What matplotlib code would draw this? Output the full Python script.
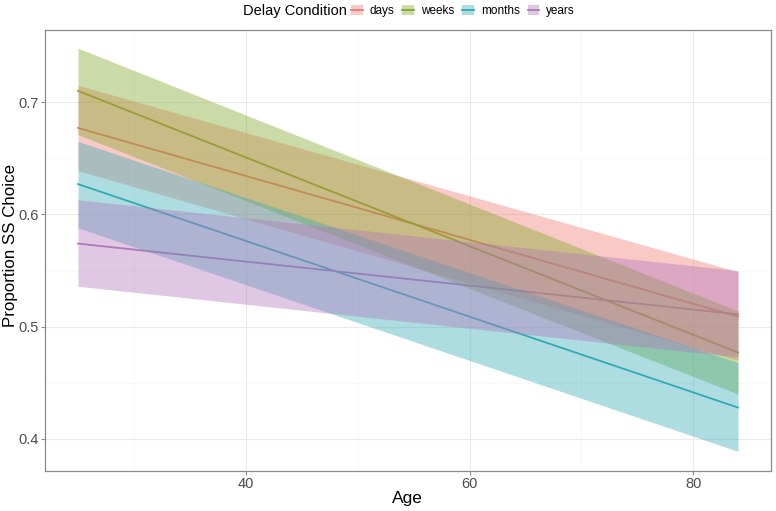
import matplotlib
matplotlib.use("Agg")
import matplotlib.pyplot as plt
from matplotlib.patches import Patch
from matplotlib.lines import Line2D

plt.rcParams['font.family'] = ['Liberation Sans', 'DejaVu Sans']

conditions = ["days", "weeks", "months", "years"]
colors = ["#F07A72", "#7FA725", "#32AAB4", "#B276BC"]
age = [25, 84]
fit = {
    "days":   [0.677, 0.509],
    "weeks":  [0.710, 0.477],
    "months": [0.627, 0.428],
    "years":  [0.574, 0.511],
}
lower = {
    "days":   [0.639, 0.470],
    "weeks":  [0.671, 0.440],
    "months": [0.588, 0.389],
    "years":  [0.536, 0.473],
}
upper = {
    "days":   [0.715, 0.549],
    "weeks":  [0.748, 0.514],
    "months": [0.665, 0.468],
    "years":  [0.613, 0.550],
}
x_ticks = [40, 60, 80]
y_ticks = [0.4, 0.5, 0.6, 0.7]

fig = plt.figure(figsize=(7.76, 5.11), dpi=100)
ax = fig.add_axes([45/776, (511-471)/511, (771-45)/776, (471-30)/511])

for c, col in zip(conditions, colors):
    ax.plot(age, fit[c], color=col, lw=1.3, zorder=2)
for c, col in zip(conditions, colors):
    ax.fill_between(age, lower[c], upper[c], color=col, alpha=0.4, lw=0, zorder=3)

ax.set_xlim(22.05, 86.95)
ax.set_ylim(0.3715, 0.7642)
ax.set_xticks(x_ticks)
ax.set_xticklabels([str(v) for v in x_ticks])
ax.set_xticks([30, 50, 70], minor=True)
ax.set_yticks(y_ticks)
ax.set_yticklabels([f"{v:.1f}" for v in y_ticks])
ax.set_yticks([0.45, 0.55, 0.65], minor=True)
ax.grid(which='major', color='#EBEBEB', lw=0.8, zorder=0)
ax.grid(which='minor', color='#F5F5F5', lw=0.5, zorder=0)
ax.set_axisbelow(True)
for s in ax.spines.values():
    s.set_color('#8A8A8A')
    s.set_linewidth(0.9)
ax.tick_params(which='major', length=3, color='#8A8A8A', labelsize=10.5,
               labelcolor='#4D4D4D', width=0.8, pad=1.5)
ax.tick_params(which='minor', length=0)
ax.set_xlabel("Age", fontsize=12.5)
ax.set_ylabel("Proportion SS Choice", fontsize=12.2)
ax.xaxis.set_label_coords((407-45)/726, (471-498)/441)
ax.yaxis.set_label_coords((11-45)/726, (471-245)/441)
ax.xaxis.label.set_va('center')
ax.yaxis.label.set_va('center')

fig.text(243/776, 1-11/511, "Delay Condition", fontsize=10.5, va='center', ha='left')
handles = [(Patch(facecolor=col, alpha=0.4, lw=0), Line2D([], [], color=col, lw=1.3))
           for col in colors]
fig.legend(handles, conditions, loc='center left', bbox_to_anchor=(351/776, 1-11/511),
           ncol=4, frameon=False, fontsize=8.5, handlelength=1.0, handleheight=0.9,
           handletextpad=0.6, columnspacing=0.65, borderaxespad=0, borderpad=0)

fig.savefig("out.png", dpi=100)
